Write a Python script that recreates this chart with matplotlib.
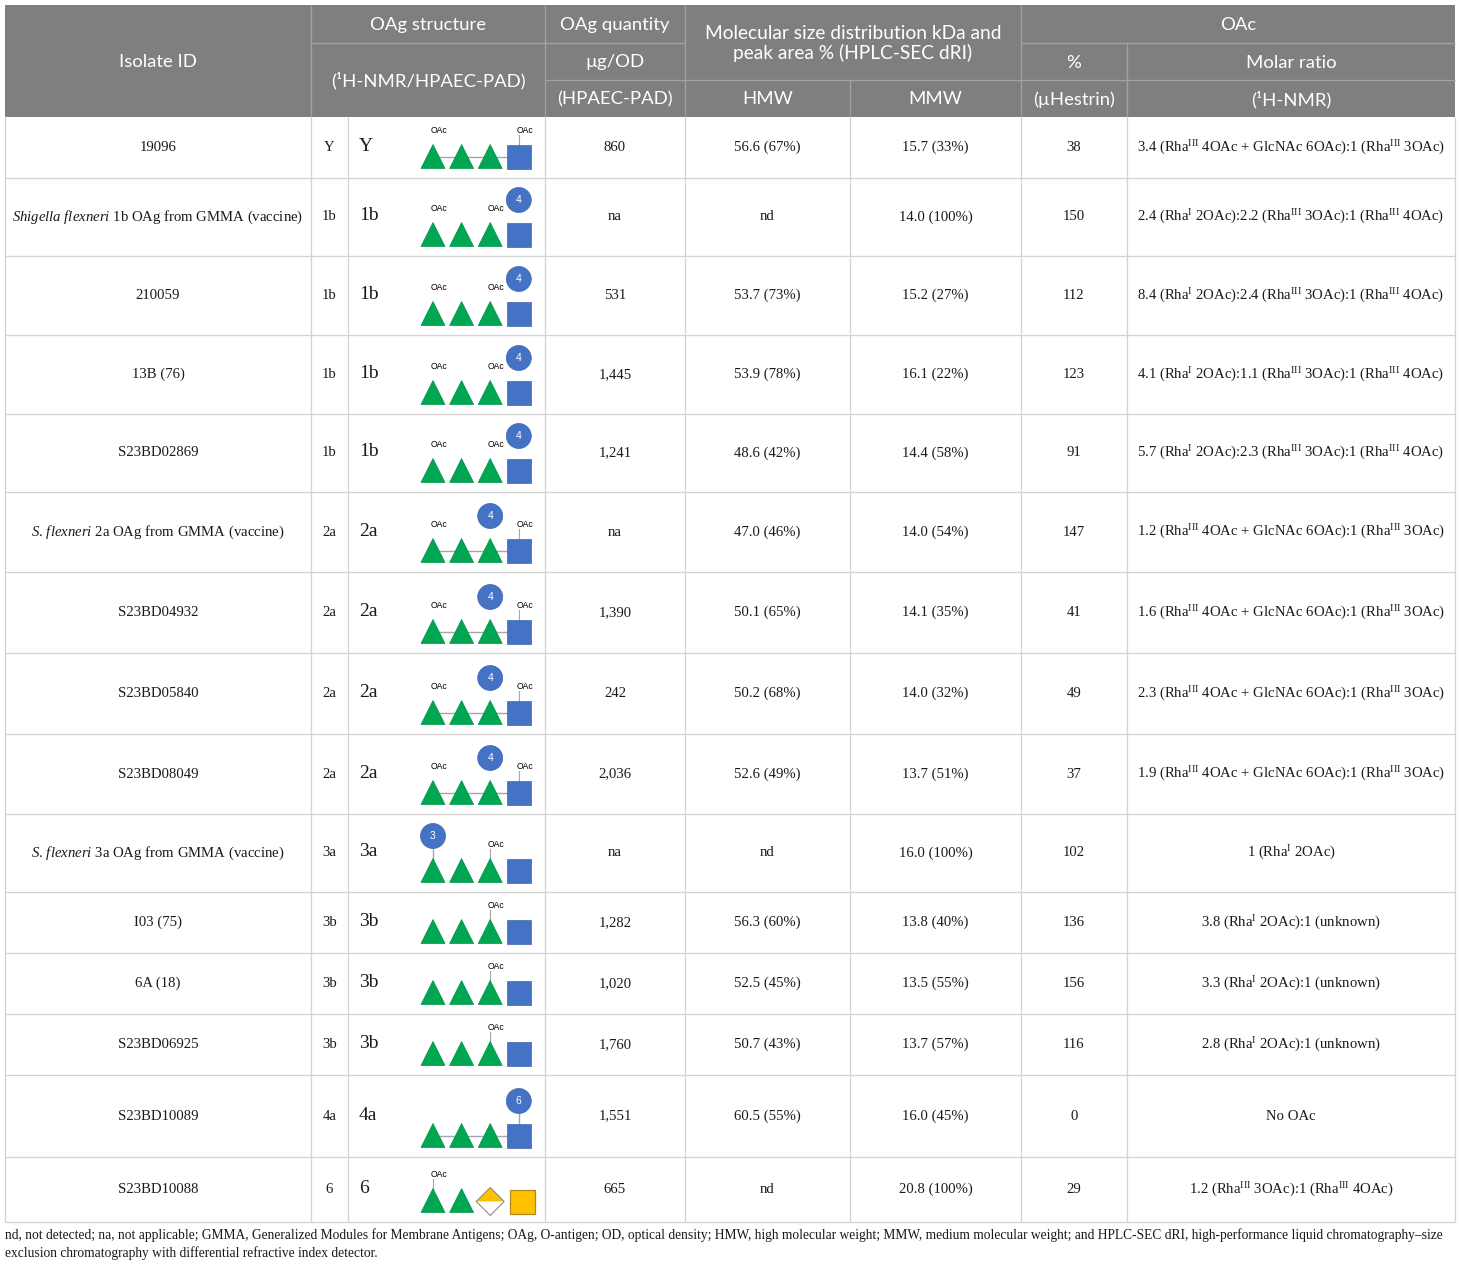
import matplotlib
matplotlib.use("Agg")
import matplotlib.pyplot as plt
from matplotlib.patches import Polygon, Circle, Rectangle

plt.rcParams['mathtext.fontset'] = 'custom'
plt.rcParams['mathtext.rm'] = 'Liberation Serif'
plt.rcParams['mathtext.it'] = 'Liberation Serif:italic'
plt.rcParams['mathtext.bf'] = 'Liberation Serif:bold'

# ---------------- data ----------------
isolate_ids = [
    "19096",
    r"$\mathit{Shigella\ flexneri}$ 1b OAg from GMMA (vaccine)",
    "210059",
    "13B (76)",
    "S23BD02869",
    r"$\mathit{S.\,flexneri}$ 2a OAg from GMMA (vaccine)",
    "S23BD04932",
    "S23BD05840",
    "S23BD08049",
    r"$\mathit{S.\,flexneri}$ 3a OAg from GMMA (vaccine)",
    "I03 (75)",
    "6A (18)",
    "S23BD06925",
    "S23BD10089",
    "S23BD10088",
]
serotypes = ["Y", "1b", "1b", "1b", "1b", "2a", "2a", "2a", "2a", "3a", "3b", "3b", "3b", "4a", "6"]
oag_quantity = ["860", "na", "531", "1,445", "1,241", "na", "1,390", "242", "2,036", "na",
                "1,282", "1,020", "1,760", "1,551", "665"]
hmw = ["56.6 (67%)", "nd", "53.7 (73%)", "53.9 (78%)", "48.6 (42%)", "47.0 (46%)", "50.1 (65%)",
       "50.2 (68%)", "52.6 (49%)", "nd", "56.3 (60%)", "52.5 (45%)", "50.7 (43%)", "60.5 (55%)", "nd"]
mmw = ["15.7 (33%)", "14.0 (100%)", "15.2 (27%)", "16.1 (22%)", "14.4 (58%)", "14.0 (54%)",
       "14.1 (35%)", "14.0 (32%)", "13.7 (51%)", "16.0 (100%)", "13.8 (40%)", "13.5 (55%)",
       "13.7 (57%)", "16.0 (45%)", "20.8 (100%)"]
oac_pct = ["38", "150", "112", "123", "91", "147", "41", "49", "37", "102", "136", "156", "116", "0", "29"]

R3 = r"Rha$^{\mathrm{III}}$"
R1 = r"Rha$^{\mathrm{I}}$"
molar_ratio = [
    f"3.4 ({R3} 4OAc + GlcNAc 6OAc):1 ({R3} 3OAc)",
    f"2.4 ({R1} 2OAc):2.2 ({R3} 3OAc):1 ({R3} 4OAc)",
    f"8.4 ({R1} 2OAc):2.4 ({R3} 3OAc):1 ({R3} 4OAc)",
    f"4.1 ({R1} 2OAc):1.1 ({R3} 3OAc):1 ({R3} 4OAc)",
    f"5.7 ({R1} 2OAc):2.3 ({R3} 3OAc):1 ({R3} 4OAc)",
    f"1.2 ({R3} 4OAc + GlcNAc 6OAc):1 ({R3} 3OAc)",
    f"1.6 ({R3} 4OAc + GlcNAc 6OAc):1 ({R3} 3OAc)",
    f"2.3 ({R3} 4OAc + GlcNAc 6OAc):1 ({R3} 3OAc)",
    f"1.9 ({R3} 4OAc + GlcNAc 6OAc):1 ({R3} 3OAc)",
    f"1 ({R1} 2OAc)",
    f"3.8 ({R1} 2OAc):1 (unknown)",
    f"3.3 ({R1} 2OAc):1 (unknown)",
    f"2.8 ({R1} 2OAc):1 (unknown)",
    "No OAc",
    f"1.2 ({R3} 3OAc):1 ({R3} 4OAc)",
]

# glycan (SNFG) structures per serotype: residues, linkage line, OAc sites, branch residue
glycans = {
    "Y":  dict(res=["tri", "tri", "tri", "sq"], linked=True,  oac=[(0, False), (3, True)], branch=None),
    "1b": dict(res=["tri", "tri", "tri", "sq"], linked=False, oac=[(0, False), (2, False)], branch=(3, "4", False)),
    "2a": dict(res=["tri", "tri", "tri", "sq"], linked=True,  oac=[(0, False), (3, True)], branch=(2, "4", False)),
    "3a": dict(res=["tri", "tri", "tri", "sq"], linked=False, oac=[(2, True)], branch=(0, "3", True)),
    "3b": dict(res=["tri", "tri", "tri", "sq"], linked=False, oac=[(2, True)], branch=None),
    "4a": dict(res=["tri", "tri", "tri", "sq"], linked=True,  oac=[], branch=(3, "6", True)),
    "6":  dict(res=["tri", "tri", "dia", "ysq"], linked=False, oac=[(0, True)], branch=None),
}

footnote = ("nd, not detected; na, not applicable; GMMA, Generalized Modules for Membrane Antigens; OAg, O-antigen; "
            "OD, optical density; HMW, high molecular weight; MMW, medium molecular weight; and HPLC-SEC dRI, "
            "high-performance liquid chromatography\u2013size\nexclusion chromatography with differential refractive index detector.")

# ---------------- layout ----------------
W, H = 1460, 1267
col_edges = [5, 311, 348, 545, 685, 850, 1021, 1127, 1455]
row_edges = [117, 178, 256, 335, 414, 492, 572, 653, 734, 814, 892, 953, 1014, 1075, 1157, 1222]
hdr_y = [5, 43, 80, 117]

HDR_BG = "#7f7f7f"
HDR_LINE = "#a3a3a3"
GRID = "#d3d3d3"
GREEN = "#00a651"
BLUE = "#4472c4"
YELLOW = "#ffc000"

SERIF = "Liberation Serif"
SANS = "Lato"

fig = plt.figure(figsize=(W / 100, H / 100), dpi=100)
ax = fig.add_axes([0, 0, 1, 1])
ax.set_xlim(0, W)
ax.set_ylim(H, 0)
ax.axis("off")

px = 0.72  # 1 pixel in points

# header background
ax.add_patch(Rectangle((col_edges[0], hdr_y[0]), col_edges[-1] - col_edges[0], hdr_y[3] - hdr_y[0],
                       facecolor=HDR_BG, edgecolor="none", zorder=1))

def hline(y, x0, x1, c, lw=1.0):
    ax.plot([x0, x1], [y, y], color=c, lw=lw * px * 1.3, zorder=2, solid_capstyle="butt")

def vline(x, y0, y1, c, lw=1.0):
    ax.plot([x, x], [y0, y1], color=c, lw=lw * px * 1.3, zorder=2, solid_capstyle="butt")

# header lines
hline(hdr_y[1], col_edges[1], col_edges[4], HDR_LINE)
hline(hdr_y[1], col_edges[6], col_edges[8], HDR_LINE)
hline(hdr_y[2], col_edges[3], col_edges[8], HDR_LINE)
for x in (col_edges[1], col_edges[3], col_edges[4], col_edges[6]):
    vline(x, hdr_y[0], hdr_y[3], HDR_LINE)
vline(col_edges[5], hdr_y[2], hdr_y[3], HDR_LINE)
vline(col_edges[7], hdr_y[1], hdr_y[3], HDR_LINE)

def htext(x, y, s, fs=13.3, **kw):
    ax.text(x, y + 1, s, ha="center", va="center", color="white", fontsize=fs, family=SANS, zorder=5, **kw)

htext((col_edges[0] + col_edges[1]) / 2, (hdr_y[0] + hdr_y[3]) / 2, "Isolate ID")
htext((col_edges[1] + col_edges[3]) / 2, (hdr_y[0] + hdr_y[1]) / 2, "OAg structure")
htext((col_edges[1] + col_edges[3]) / 2, (hdr_y[1] + hdr_y[3]) / 2, "(\u00b9H-NMR/HPAEC-PAD)")
htext((col_edges[3] + col_edges[4]) / 2, (hdr_y[0] + hdr_y[1]) / 2, "OAg quantity")
htext((col_edges[3] + col_edges[4]) / 2, (hdr_y[1] + hdr_y[2]) / 2, "\u00b5g/OD")
htext((col_edges[3] + col_edges[4]) / 2, (hdr_y[2] + hdr_y[3]) / 2, "(HPAEC-PAD)")
htext((col_edges[4] + col_edges[6]) / 2, (hdr_y[0] + hdr_y[2]) / 2,
      "Molecular size distribution kDa and\npeak area % (HPLC-SEC dRI)", fs=13.8, linespacing=1.1)
htext((col_edges[4] + col_edges[5]) / 2, (hdr_y[2] + hdr_y[3]) / 2, "HMW")
htext((col_edges[5] + col_edges[6]) / 2, (hdr_y[2] + hdr_y[3]) / 2, "MMW")
htext((col_edges[6] + col_edges[8]) / 2, (hdr_y[0] + hdr_y[1]) / 2, "OAc")
htext((col_edges[6] + col_edges[7]) / 2, (hdr_y[1] + hdr_y[2]) / 2, "%")
htext((col_edges[7] + col_edges[8]) / 2, (hdr_y[1] + hdr_y[2]) / 2, "Molar ratio")
htext((col_edges[6] + col_edges[7]) / 2, (hdr_y[2] + hdr_y[3]) / 2, "(\u00b5Hestrin)")
htext((col_edges[7] + col_edges[8]) / 2, (hdr_y[2] + hdr_y[3]) / 2, "(\u00b9H-NMR)")

# body grid
for y in row_edges[1:]:
    hline(y, col_edges[0], col_edges[-1], GRID)
for x in col_edges:
    vline(x, row_edges[0], row_edges[-1], GRID)

# glycan drawing
RES_SIZE = 24
RES_X0 = 433
RES_DX = 28.6

def draw_glycan(spec, ybot):
    xs = [RES_X0 + i * RES_DX for i in range(len(spec["res"]))]
    top = ybot - RES_SIZE
    mid = ybot - RES_SIZE / 2
    h = RES_SIZE / 2
    if spec["linked"]:
        ax.plot([xs[0], xs[-1]], [mid, mid], color="#a6a6a6", lw=1.0, zorder=3)
    for x, kind in zip(xs, spec["res"]):
        if kind == "tri":
            ax.add_patch(Polygon([(x - h, ybot), (x + h, ybot), (x, top)], closed=True,
                                 facecolor=GREEN, edgecolor="#00934a", lw=0.5, zorder=4))
        elif kind == "sq":
            ax.add_patch(Rectangle((x - h, top), RES_SIZE, RES_SIZE,
                                   facecolor=BLUE, edgecolor="#3d66b0", lw=0.5, zorder=4))
        elif kind == "ysq":
            ax.add_patch(Rectangle((x - h + 3, top + 1), RES_SIZE + 1, RES_SIZE,
                                   facecolor=YELLOW, edgecolor="#b08a20", lw=0.9, zorder=4))
        elif kind == "dia":
            dh = h + 2
            ax.add_patch(Polygon([(x - dh, mid + 1), (x, mid + 1 - dh), (x + dh, mid + 1)], closed=True,
                                 facecolor=YELLOW, edgecolor="none", zorder=4))
            ax.add_patch(Polygon([(x - dh, mid + 1), (x, mid + 1 - dh), (x + dh, mid + 1), (x, mid + 1 + dh)],
                                 closed=True, facecolor="none", edgecolor="#8c8c8c", lw=0.8, zorder=5))
    for idx, stub in spec["oac"]:
        x = xs[idx]
        ly = top - 14
        if stub:
            ax.plot([x, x], [ly + 4, top], color="#a6a6a6", lw=0.8, zorder=3)
        ax.text(x + 6, ly, "OAc", ha="center", va="center", fontsize=6.2,
                family="Liberation Sans", color="black", zorder=5)
    if spec["branch"] is not None:
        idx, label, stub = spec["branch"]
        x = xs[idx]
        cy = top - 22.5
        if stub:
            ax.plot([x, x], [cy, top], color="#a6a6a6", lw=1.0, zorder=3)
        ax.add_patch(Circle((x, cy), 12.5, facecolor=BLUE, edgecolor="#3d66b0", lw=0.5, zorder=4))
        ax.text(x, cy, label, ha="center", va="center", fontsize=7.5, family="Liberation Sans",
                color="white", zorder=6)

# body text
def btext(x, y, s, ha="center", fs=10.6, **kw):
    ax.text(x, y, s, ha=ha, va="center", fontsize=fs, family=SERIF, color="#1a1a1a", zorder=5, **kw)

cx = [(col_edges[i] + col_edges[i + 1]) / 2 for i in range(len(col_edges) - 1)]
for i in range(len(isolate_ids)):
    y0, y1 = row_edges[i], row_edges[i + 1]
    yc = (y0 + y1) / 2
    btext(cx[0], yc, isolate_ids[i])
    btext(cx[1], yc, serotypes[i])
    btext(col_edges[2] + 11, yc - 1, serotypes[i], ha="left", fs=14)
    btext(cx[3], yc, oag_quantity[i])
    btext(cx[4], yc, hmw[i])
    btext(cx[5], yc, mmw[i])
    btext(cx[6], yc, oac_pct[i])
    btext(cx[7], yc, molar_ratio[i])
    draw_glycan(glycans[serotypes[i]], y1 - 9.5)

# footnote
ax.text(col_edges[0], 1228.5, footnote, ha="left", va="top", fontsize=9.75, family=SERIF,
        color="#1a1a1a", linespacing=1.38)

fig.savefig("out.png", dpi=100)
